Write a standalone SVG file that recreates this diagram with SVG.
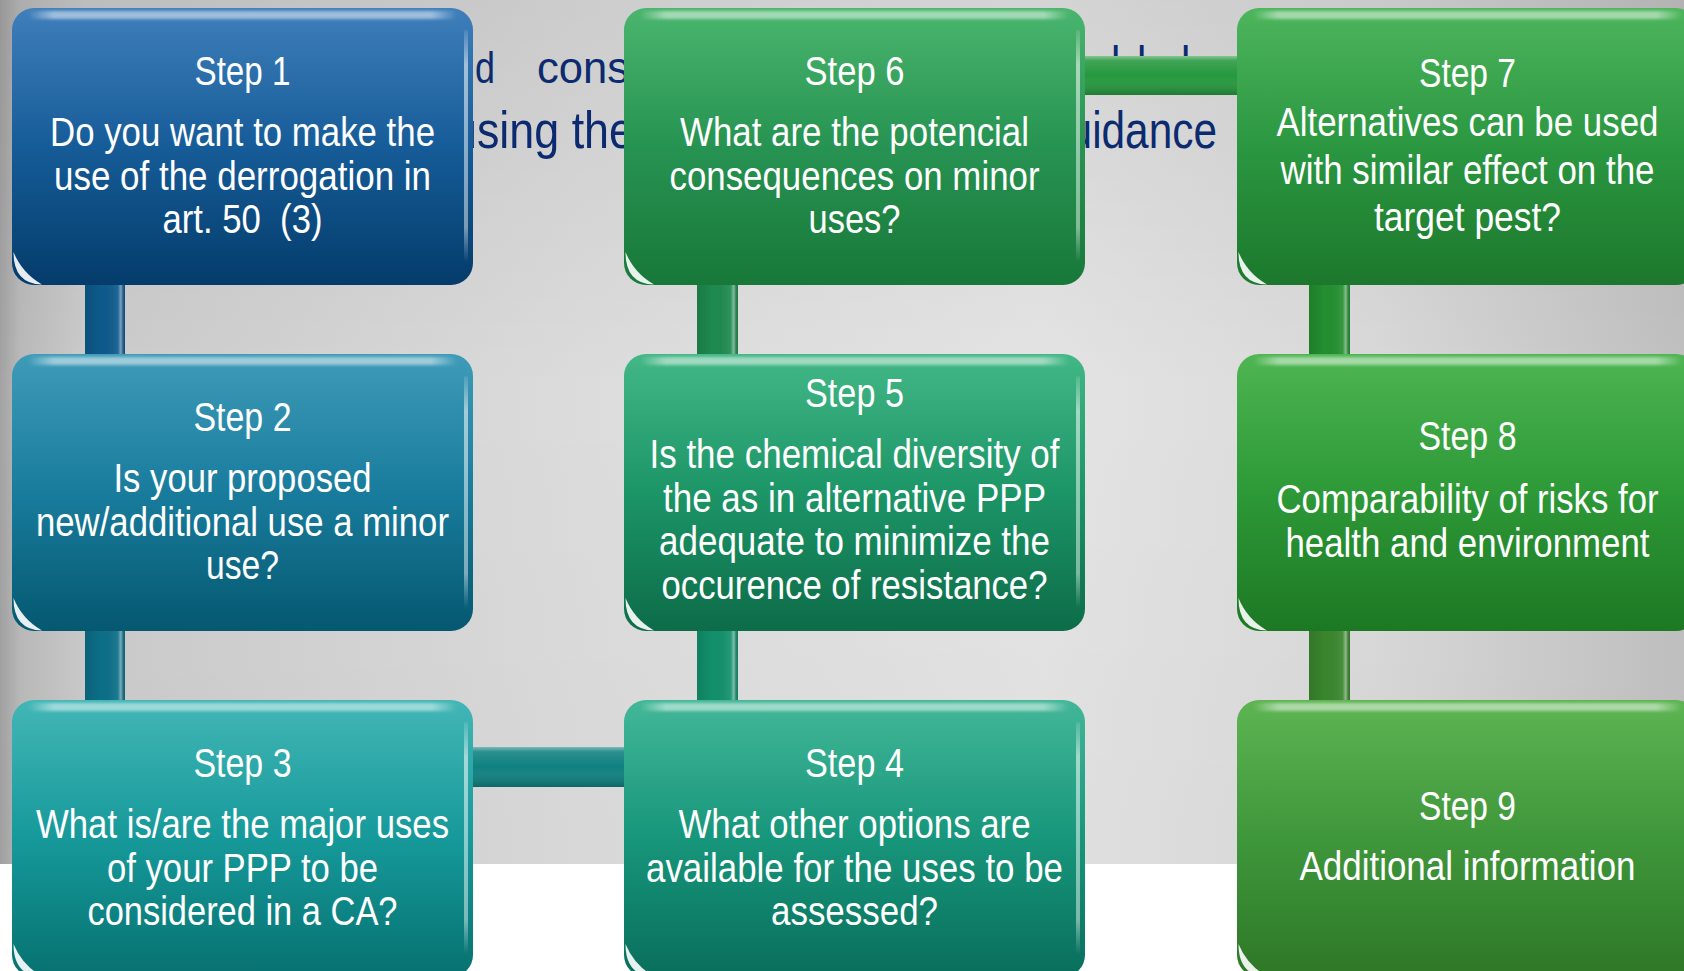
<svg xmlns="http://www.w3.org/2000/svg" width="1684" height="971" viewBox="0 0 1684 971">
<defs>
<style>
.t{font-family:'Liberation Sans Narrow','Arial Narrow','Liberation Sans',Arial,sans-serif;font-size:41px;fill:#ffffff;text-anchor:middle}
.bgt{font-family:'Liberation Sans Narrow','Arial Narrow','Liberation Sans',Arial,sans-serif;fill:#0b2a6f}
.glint{fill:#ffffff;fill-opacity:0.9}
</style>
<clipPath id="gapA"><rect x="473" y="0" width="151" height="300"/></clipPath>
<clipPath id="gapB"><rect x="1085" y="0" width="152" height="300"/></clipPath>
<linearGradient id="bgH" x1="0" y1="0" x2="1" y2="0">
<stop offset="0" stop-color="#a2a2a2"/><stop offset="0.012" stop-color="#bababa"/><stop offset="0.05" stop-color="#cbcbcb"/><stop offset="0.35" stop-color="#dcdcdc"/><stop offset="0.62" stop-color="#e4e4e4"/><stop offset="0.82" stop-color="#d9d9d9"/><stop offset="1" stop-color="#c0c0c0"/>
</linearGradient>
<linearGradient id="bgV" x1="0" y1="0" x2="0" y2="1">
<stop offset="0" stop-color="#000" stop-opacity="0.07"/><stop offset="0.45" stop-color="#000" stop-opacity="0"/><stop offset="1" stop-color="#000" stop-opacity="0.02"/>
</linearGradient>
<linearGradient id="g1" x1="0" y1="0" x2="0" y2="1"><stop offset="0" stop-color="#3f7fbb"/><stop offset="0.5" stop-color="#165c98"/><stop offset="1" stop-color="#043c6b"/></linearGradient>
<linearGradient id="g2" x1="0" y1="0" x2="0" y2="1"><stop offset="0" stop-color="#3f9bb8"/><stop offset="0.5" stop-color="#197c9d"/><stop offset="1" stop-color="#055870"/></linearGradient>
<linearGradient id="g3" x1="0" y1="0" x2="0" y2="1"><stop offset="0" stop-color="#43b6b6"/><stop offset="0.5" stop-color="#16999a"/><stop offset="1" stop-color="#077170"/></linearGradient>
<linearGradient id="g4" x1="0" y1="0" x2="0" y2="1"><stop offset="0" stop-color="#43b798"/><stop offset="0.5" stop-color="#17967b"/><stop offset="1" stop-color="#096e5c"/></linearGradient>
<linearGradient id="g5" x1="0" y1="0" x2="0" y2="1"><stop offset="0" stop-color="#43b786"/><stop offset="0.5" stop-color="#1c9567"/><stop offset="1" stop-color="#0d6c49"/></linearGradient>
<linearGradient id="g6" x1="0" y1="0" x2="0" y2="1"><stop offset="0" stop-color="#4ab56d"/><stop offset="0.5" stop-color="#279352"/><stop offset="1" stop-color="#177839"/></linearGradient>
<linearGradient id="g7" x1="0" y1="0" x2="0" y2="1"><stop offset="0" stop-color="#4db55c"/><stop offset="0.5" stop-color="#2b9741"/><stop offset="1" stop-color="#1c782c"/></linearGradient>
<linearGradient id="g8" x1="0" y1="0" x2="0" y2="1"><stop offset="0" stop-color="#4eb552"/><stop offset="0.5" stop-color="#2d9937"/><stop offset="1" stop-color="#1d7824"/></linearGradient>
<linearGradient id="g9" x1="0" y1="0" x2="0" y2="1"><stop offset="0" stop-color="#5db452"/><stop offset="0.5" stop-color="#3f973b"/><stop offset="1" stop-color="#2e7727"/></linearGradient>
<linearGradient id="hlTop" x1="0" y1="0" x2="1" y2="0"><stop offset="0" stop-color="#fff" stop-opacity="0"/><stop offset="0.06" stop-color="#fff" stop-opacity="0.5"/><stop offset="0.94" stop-color="#fff" stop-opacity="0.5"/><stop offset="1" stop-color="#fff" stop-opacity="0"/></linearGradient>
<linearGradient id="hlRight" x1="0" y1="0" x2="0" y2="1"><stop offset="0" stop-color="#fff" stop-opacity="0.1"/><stop offset="0.15" stop-color="#fff" stop-opacity="0.55"/><stop offset="0.85" stop-color="#fff" stop-opacity="0.45"/><stop offset="1" stop-color="#fff" stop-opacity="0"/></linearGradient>
<linearGradient id="vbar" x1="0" y1="0" x2="1" y2="0"><stop offset="0" stop-color="#000" stop-opacity="0.12"/><stop offset="0.4" stop-color="#000" stop-opacity="0"/><stop offset="0.82" stop-color="#fff" stop-opacity="0.08"/><stop offset="0.9" stop-color="#fff" stop-opacity="0.45"/><stop offset="1" stop-color="#000" stop-opacity="0.1"/></linearGradient>
<linearGradient id="hbar" x1="0" y1="0" x2="0" y2="1"><stop offset="0" stop-color="#fff" stop-opacity="0.45"/><stop offset="0.12" stop-color="#fff" stop-opacity="0.12"/><stop offset="0.5" stop-color="#fff" stop-opacity="0"/><stop offset="1" stop-color="#000" stop-opacity="0.2"/></linearGradient>
<filter id="soft" x="-10%" y="-100%" width="120%" height="300%"><feGaussianBlur stdDeviation="1.5"/></filter>
<filter id="gl" x="-30%" y="-30%" width="160%" height="160%"><feGaussianBlur stdDeviation="0.7"/></filter>
</defs>

<g id="background">
<rect width="1684" height="971" fill="#ffffff"/>
<rect width="1684" height="864" fill="url(#bgH)"/>
<rect width="1684" height="864" fill="url(#bgV)"/>
<g clip-path="url(#gapA)">
<text class="bgt" x="475" y="83" font-size="44" textLength="20" lengthAdjust="spacingAndGlyphs">d</text>
<text class="bgt" x="537" y="83" font-size="44" textLength="92" lengthAdjust="spacingAndGlyphs">cons</text>
<text class="bgt" x="452" y="148" font-size="52" textLength="182" lengthAdjust="spacingAndGlyphs">using the</text>
</g>
<g clip-path="url(#gapB)">
<text class="bgt" x="1111" y="76" font-size="42">l</text>
<text class="bgt" x="1137" y="76" font-size="42">l</text>
<text class="bgt" x="1181" y="76" font-size="42">l</text>
<text class="bgt" x="1045" y="148" font-size="52" textLength="172" lengthAdjust="spacingAndGlyphs">guidance</text>
</g>
</g>

<g id="connectors">
<rect x="85" y="280" width="40" height="80" fill="#0e5a8c"/><rect x="85" y="280" width="40" height="80" fill="url(#vbar)"/>
<rect x="85" y="625" width="40" height="80" fill="#0c6f88"/><rect x="85" y="625" width="40" height="80" fill="url(#vbar)"/>
<rect x="468" y="747" width="160" height="40" fill="#0f8080"/><rect x="468" y="747" width="160" height="40" fill="url(#hbar)"/>
<rect x="697" y="625" width="41" height="80" fill="#12906c"/><rect x="697" y="625" width="41" height="80" fill="url(#vbar)"/>
<rect x="697" y="280" width="41" height="80" fill="#1e8a4e"/><rect x="697" y="280" width="41" height="80" fill="url(#vbar)"/>
<rect x="1080" y="56" width="162" height="39" fill="#26983e"/><rect x="1080" y="56" width="162" height="39" fill="url(#hbar)"/>
<rect x="1309" y="280" width="41" height="80" fill="#238f30"/><rect x="1309" y="280" width="41" height="80" fill="url(#vbar)"/>
<rect x="1309" y="625" width="41" height="80" fill="#3a862e"/><rect x="1309" y="625" width="41" height="80" fill="url(#vbar)"/>
</g>

<g id="step1" transform="translate(12,8)">
<rect width="461" height="277" rx="22" fill="url(#g1)"/>
<rect x="16" y="3" width="429" height="8" rx="4" fill="url(#hlTop)" filter="url(#soft)"/>
<rect x="452" y="22" width="4" height="232" rx="2" fill="url(#hlRight)"/>
<path class="glint" filter="url(#gl)" d="M1.5,244 Q1.5,276 30,276.5 Q10,265 1.5,244 Z"/>
<text class="t" x="230.5" y="77" textLength="96" lengthAdjust="spacingAndGlyphs">Step 1</text>
<text class="t" x="230.5" y="138" textLength="385" lengthAdjust="spacingAndGlyphs">Do you want to make the</text>
<text class="t" x="230.5" y="182" textLength="377" lengthAdjust="spacingAndGlyphs">use of the derrogation in</text>
<text class="t" x="230.5" y="225" textLength="160" lengthAdjust="spacingAndGlyphs">art. 50&#160; (3)</text>
</g>

<g id="step2" transform="translate(12,354)">
<rect width="461" height="277" rx="22" fill="url(#g2)"/>
<rect x="16" y="3" width="429" height="8" rx="4" fill="url(#hlTop)" filter="url(#soft)"/>
<rect x="452" y="22" width="4" height="232" rx="2" fill="url(#hlRight)"/>
<path class="glint" filter="url(#gl)" d="M1.5,244 Q1.5,276 30,276.5 Q10,265 1.5,244 Z"/>
<text class="t" x="230.5" y="77" textLength="98" lengthAdjust="spacingAndGlyphs">Step 2</text>
<text class="t" x="230.5" y="138" textLength="258" lengthAdjust="spacingAndGlyphs">Is your proposed</text>
<text class="t" x="230.5" y="182" textLength="413" lengthAdjust="spacingAndGlyphs">new/additional use a minor</text>
<text class="t" x="230.5" y="225" textLength="73" lengthAdjust="spacingAndGlyphs">use?</text>
</g>

<g id="step3" transform="translate(12,700)">
<rect width="461" height="277" rx="22" fill="url(#g3)"/>
<rect x="16" y="3" width="429" height="8" rx="4" fill="url(#hlTop)" filter="url(#soft)"/>
<rect x="452" y="22" width="4" height="232" rx="2" fill="url(#hlRight)"/>
<path class="glint" filter="url(#gl)" d="M1.5,244 Q1.5,276 30,276.5 Q10,265 1.5,244 Z"/>
<text class="t" x="230.5" y="77" textLength="98" lengthAdjust="spacingAndGlyphs">Step 3</text>
<text class="t" x="230.5" y="138" textLength="413" lengthAdjust="spacingAndGlyphs">What is/are the major uses</text>
<text class="t" x="230.5" y="182" textLength="271" lengthAdjust="spacingAndGlyphs">of your PPP to be</text>
<text class="t" x="230.5" y="225" textLength="310" lengthAdjust="spacingAndGlyphs">considered in a CA?</text>
</g>

<g id="step4" transform="translate(624,700)">
<rect width="461" height="277" rx="22" fill="url(#g4)"/>
<rect x="16" y="3" width="429" height="8" rx="4" fill="url(#hlTop)" filter="url(#soft)"/>
<rect x="452" y="22" width="4" height="232" rx="2" fill="url(#hlRight)"/>
<path class="glint" filter="url(#gl)" d="M1.5,244 Q1.5,276 30,276.5 Q10,265 1.5,244 Z"/>
<text class="t" x="230.5" y="77" textLength="99" lengthAdjust="spacingAndGlyphs">Step 4</text>
<text class="t" x="230.5" y="138" textLength="352" lengthAdjust="spacingAndGlyphs">What other options are</text>
<text class="t" x="230.5" y="182" textLength="417" lengthAdjust="spacingAndGlyphs">available for the uses to be</text>
<text class="t" x="230.5" y="225" textLength="167" lengthAdjust="spacingAndGlyphs">assessed?</text>
</g>

<g id="step5" transform="translate(624,354)">
<rect width="461" height="277" rx="22" fill="url(#g5)"/>
<rect x="16" y="3" width="429" height="8" rx="4" fill="url(#hlTop)" filter="url(#soft)"/>
<rect x="452" y="22" width="4" height="232" rx="2" fill="url(#hlRight)"/>
<path class="glint" filter="url(#gl)" d="M1.5,244 Q1.5,276 30,276.5 Q10,265 1.5,244 Z"/>
<text class="t" x="230.5" y="53" textLength="99" lengthAdjust="spacingAndGlyphs">Step 5</text>
<text class="t" x="230.5" y="114" textLength="410" lengthAdjust="spacingAndGlyphs">Is the chemical diversity of</text>
<text class="t" x="230.5" y="158" textLength="383" lengthAdjust="spacingAndGlyphs">the as in alternative PPP</text>
<text class="t" x="230.5" y="201" textLength="391" lengthAdjust="spacingAndGlyphs">adequate to minimize the</text>
<text class="t" x="230.5" y="245" textLength="386" lengthAdjust="spacingAndGlyphs">occurence of resistance?</text>
</g>

<g id="step6" transform="translate(624,8)">
<rect width="461" height="277" rx="22" fill="url(#g6)"/>
<rect x="16" y="3" width="429" height="8" rx="4" fill="url(#hlTop)" filter="url(#soft)"/>
<rect x="452" y="22" width="4" height="232" rx="2" fill="url(#hlRight)"/>
<path class="glint" filter="url(#gl)" d="M1.5,244 Q1.5,276 30,276.5 Q10,265 1.5,244 Z"/>
<text class="t" x="230.5" y="77" textLength="100" lengthAdjust="spacingAndGlyphs">Step 6</text>
<text class="t" x="230.5" y="138" textLength="349" lengthAdjust="spacingAndGlyphs">What are the potencial</text>
<text class="t" x="230.5" y="182" textLength="370" lengthAdjust="spacingAndGlyphs">consequences on minor</text>
<text class="t" x="230.5" y="225" textLength="92" lengthAdjust="spacingAndGlyphs">uses?</text>
</g>

<g id="step7" transform="translate(1237,8)">
<rect width="461" height="277" rx="22" fill="url(#g7)"/>
<rect x="16" y="3" width="429" height="8" rx="4" fill="url(#hlTop)" filter="url(#soft)"/>
<path class="glint" filter="url(#gl)" d="M1.5,244 Q1.5,276 30,276.5 Q10,265 1.5,244 Z"/>
<text class="t" x="230.5" y="79" textLength="97" lengthAdjust="spacingAndGlyphs">Step 7</text>
<text class="t" x="230.5" y="128" textLength="382" lengthAdjust="spacingAndGlyphs">Alternatives can be used</text>
<text class="t" x="230.5" y="176" textLength="374" lengthAdjust="spacingAndGlyphs">with similar effect on the</text>
<text class="t" x="230.5" y="223" textLength="187" lengthAdjust="spacingAndGlyphs">target pest?</text>
</g>

<g id="step8" transform="translate(1237,354)">
<rect width="461" height="277" rx="22" fill="url(#g8)"/>
<rect x="16" y="3" width="429" height="8" rx="4" fill="url(#hlTop)" filter="url(#soft)"/>
<path class="glint" filter="url(#gl)" d="M1.5,244 Q1.5,276 30,276.5 Q10,265 1.5,244 Z"/>
<text class="t" x="230.5" y="96" textLength="98" lengthAdjust="spacingAndGlyphs">Step 8</text>
<text class="t" x="230.5" y="159" textLength="382" lengthAdjust="spacingAndGlyphs">Comparability of risks for</text>
<text class="t" x="230.5" y="203" textLength="364" lengthAdjust="spacingAndGlyphs">health and environment</text>
</g>

<g id="step9" transform="translate(1237,700)">
<rect width="461" height="277" rx="22" fill="url(#g9)"/>
<rect x="16" y="3" width="429" height="8" rx="4" fill="url(#hlTop)" filter="url(#soft)"/>
<path class="glint" filter="url(#gl)" d="M1.5,244 Q1.5,276 30,276.5 Q10,265 1.5,244 Z"/>
<text class="t" x="230.5" y="120" textLength="97" lengthAdjust="spacingAndGlyphs">Step 9</text>
<text class="t" x="230.5" y="180" textLength="336" lengthAdjust="spacingAndGlyphs">Additional information</text>
</g>
</svg>
